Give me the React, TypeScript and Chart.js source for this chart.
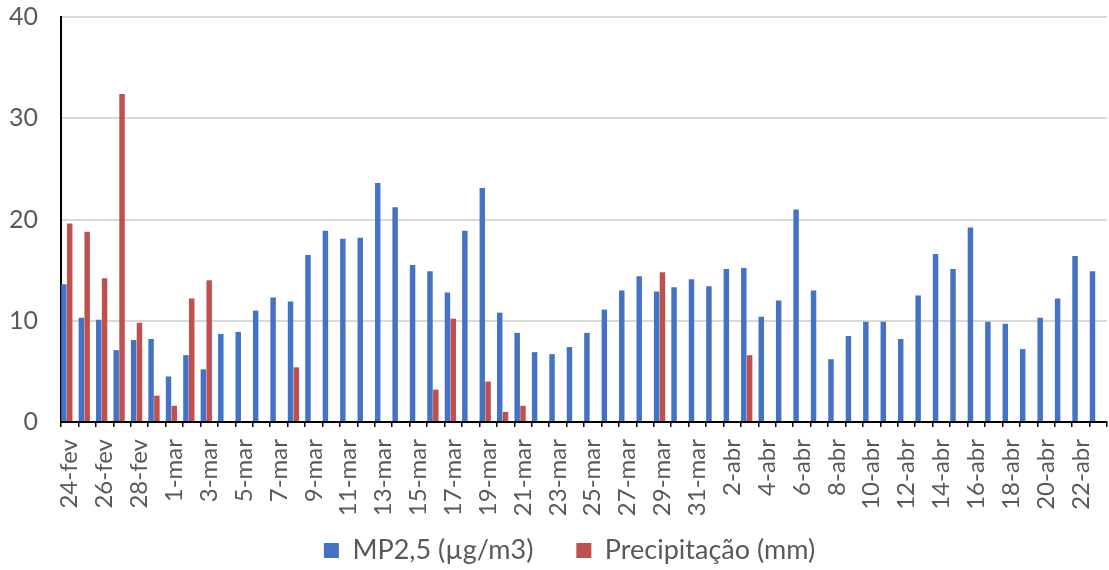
import React, { useEffect, useRef } from "react";
import { Chart, registerables } from "chart.js";

Chart.register(...registerables);

const categories: string[] = [
  "24-fev", "25-fev", "26-fev", "27-fev", "28-fev", "29-fev",
  "1-mar", "2-mar", "3-mar", "4-mar", "5-mar", "6-mar", "7-mar", "8-mar", "9-mar", "10-mar",
  "11-mar", "12-mar", "13-mar", "14-mar", "15-mar", "16-mar", "17-mar", "18-mar", "19-mar", "20-mar",
  "21-mar", "22-mar", "23-mar", "24-mar", "25-mar", "26-mar", "27-mar", "28-mar", "29-mar", "30-mar", "31-mar",
  "1-abr", "2-abr", "3-abr", "4-abr", "5-abr", "6-abr", "7-abr", "8-abr", "9-abr", "10-abr",
  "11-abr", "12-abr", "13-abr", "14-abr", "15-abr", "16-abr", "17-abr", "18-abr", "19-abr", "20-abr",
  "21-abr", "22-abr", "23-abr",
];

const mp25: number[] = [
  13.6, 10.3, 10.1, 7.1, 8.1, 8.2,
  4.5, 6.6, 5.2, 8.7, 8.9, 11.0, 12.3, 11.9, 16.5, 18.9,
  18.1, 18.2, 23.6, 21.2, 15.5, 14.9, 12.8, 18.9, 23.1, 10.8,
  8.8, 6.9, 6.7, 7.4, 8.8, 11.1, 13.0, 14.4, 12.9, 13.3, 14.1,
  13.4, 15.1, 15.2, 10.4, 12.0, 21.0, 13.0, 6.2, 8.5, 9.9,
  9.9, 8.2, 12.5, 16.6, 15.1, 19.2, 9.9, 9.7, 7.2, 10.3,
  12.2, 16.4, 14.9,
];

const precipitacao: (number | null)[] = [
  19.6, 18.8, 14.2, 32.4, 9.8, 2.6,
  1.6, 12.2, 14.0, null, null, null, null, 5.4, null, null,
  null, null, null, null, null, 3.2, 10.2, null, 4.0, 1.0,
  1.6, null, null, null, null, null, null, null, 14.8, null, null,
  null, null, 6.6, null, null, null, null, null, null, null,
  null, null, null, null, null, null, null, null, null, null,
  null, null, null,
];

// third (empty) series slot, as in the original workbook
const emptySeries: (number | null)[] = categories.map(() => null);

const yTicks: number[] = [0, 10, 20, 30, 40];

const seriesLabels = ["MP2,5 (µg/m3)", "Precipitação (mm)"];

export default function App() {
  const canvasRef = useRef<HTMLCanvasElement | null>(null);

  useEffect(() => {
    if (!canvasRef.current) return;
    const textColor = "#595959";
    const adjust = {
      id: "adjustLayout",
      afterLayout(chart: any) {
        const x = chart.scales.x;
        if (x) x.bottom = chart.height;
        const lg = chart.legend;
        if (lg) {
          lg.left += 16;
          lg.right += 16;
        }
      },
    };
    const chart = new Chart(canvasRef.current, {
      type: "bar",
      data: {
        labels: categories,
        datasets: [
          {
            label: seriesLabels[0],
            data: mp25,
            backgroundColor: "#4472C4",
            borderWidth: 0,
            categoryPercentage: 1.0,
            barPercentage: 0.94,
          },
          {
            label: seriesLabels[1],
            data: precipitacao,
            backgroundColor: "#C0504D",
            borderWidth: 0,
            categoryPercentage: 1.0,
            barPercentage: 0.94,
          },
          {
            label: "",
            data: emptySeries,
            backgroundColor: "rgba(0,0,0,0)",
            borderWidth: 0,
            categoryPercentage: 1.0,
            barPercentage: 0.94,
          },
        ],
      },
      plugins: [adjust],
      options: {
        responsive: true,
        maintainAspectRatio: false,
        animation: false,
        layout: { padding: { top: 17, right: 2, left: 0, bottom: -4 } },
        plugins: {
          tooltip: { enabled: false },
          legend: {
            position: "bottom",
            labels: {
              filter: (item: any) => item.datasetIndex < 2,
              boxWidth: 15,
              boxHeight: 15,
              padding: 43,
              color: textColor,
              font: { family: "Lato", size: 27 },
            },
          },
        },
        scales: {
          x: {
            grid: {
              offset: true,
              drawOnChartArea: false,
              drawTicks: true,
              tickLength: 5,
              color: "#000000",
              lineWidth: 1.5,
            },
            border: { display: true, color: "#000000", width: 2 },
            ticks: {
              autoSkip: false,
              maxRotation: 90,
              minRotation: 90,
              padding: 12,
              color: textColor,
              font: { family: "Lato", size: 24 },
              callback: (_v: any, i: number) => (i % 2 === 0 ? categories[i] : ""),
            },
            afterFit: (scale: any) => {
              scale.height = 72;
              scale.paddingLeft = 0;
              scale.paddingRight = 0;
            },
          },
          y: {
            min: 0,
            max: 40,
            afterBuildTicks: (scale: any) => {
              scale.ticks = yTicks.map((v) => ({ value: v }));
            },
            grid: {
              drawTicks: false,
              color: "#d9d9d9",
              lineWidth: 2,
            },
            border: { display: true, color: "#000000", width: 2 },
            ticks: {
              padding: 23,
              color: textColor,
              font: { family: "Lato", size: 25 },
            },
            afterFit: (scale: any) => {
              scale.width = 61;
              scale.paddingTop = 0;
              scale.paddingBottom = 0;
            },
          },
        },
      },
    });
    return () => chart.destroy();
  }, []);

  return (
    <div style={{ position: "absolute", left: 0, top: 0, width: 1109, height: 570 }}>
      <canvas ref={canvasRef} />
    </div>
  );
}
